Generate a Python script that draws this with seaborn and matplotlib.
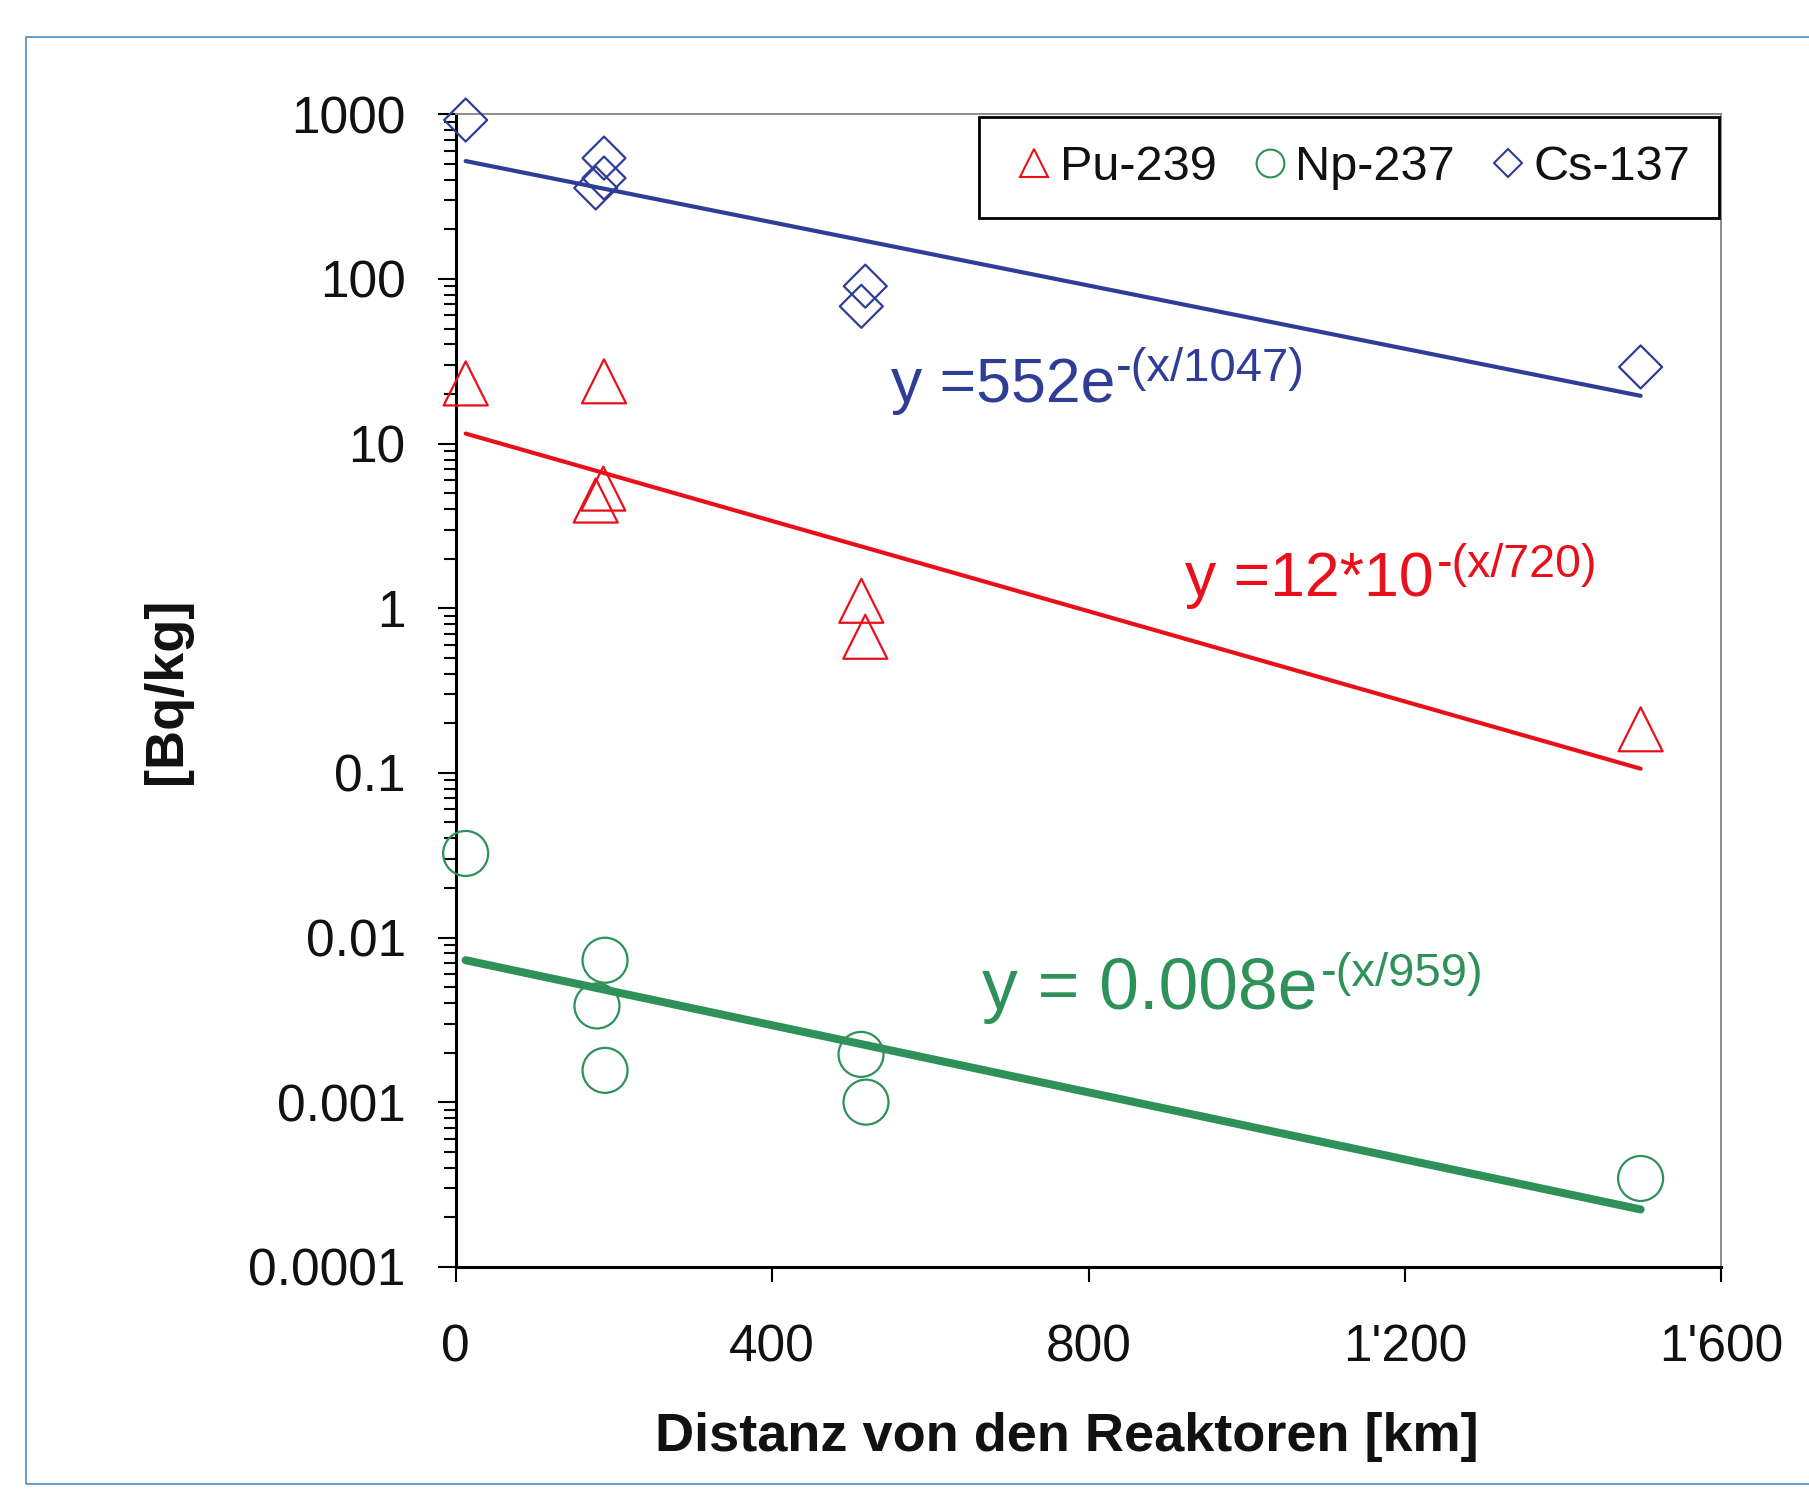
import numpy as np
import pandas as pd
import matplotlib
matplotlib.use("Agg")
import matplotlib.pyplot as plt
import seaborn as sns
from matplotlib.lines import Line2D
from matplotlib.patches import Rectangle
from matplotlib.ticker import FixedLocator, FixedFormatter, LogLocator, NullFormatter

# ---------------- data ----------------
isotopes = ["Pu-239", "Np-237", "Cs-137"]

pu_x = [12.6, 187.5, 186.6, 177.0, 512.8, 517.8, 1498.0]
pu_y = [23.2, 23.9, 5.33, 4.51, 1.11, 0.671, 0.184]

np_x = [12.6, 188.8, 178.6, 188.8, 512.4, 518.7, 1498.0]
np_y = [0.0324, 0.00728, 0.00384, 0.00156, 0.00195, 0.00100, 0.000344]

cs_x = [12.6, 187.5, 187.5, 177.0, 517.8, 512.8, 1498.0]
cs_y = [923.0, 542.0, 410.0, 357.0, 90.4, 68.2, 29.2]

fit_x = [12.6, 1498.0]
pu_fit = [11.5, 0.106]
np_fit = [0.00728, 0.000223]
cs_fit = [520.0, 19.5]

eq_main = ["y =552e", "y =12*10", "y = 0.008e"]
eq_sup = ["-(x/1047)", "-(x/720)", "-(x/959)"]

x_ticks = [0, 400, 800, 1200, 1600]
x_tick_labels = ["0", "400", "800", "1'200", "1'600"]
y_ticks = [1e-4, 1e-3, 1e-2, 1e-1, 1e0, 1e1, 1e2, 1e3]
y_tick_labels = ["0.0001", "0.001", "0.01", "0.1", "1", "10", "100", "1000"]

x_label = "Distanz von den Reaktoren [km]"
y_label = "[Bq/kg]"

# ---------------- style ----------------
BLUE = "#2f3d96"
RED = "#e8101a"
GREEN = "#2e9159"
FRAME = "#4f88c6"

sns.set_theme(style="ticks")
plt.rcParams["font.family"] = ["Liberation Sans", "DejaVu Sans"]

W, H = 1809, 1490
fig = plt.figure(figsize=(W / 100, H / 100), dpi=100)
ax = fig.add_axes([455.7 / W, 1 - 1266.8 / H, 1265.6 / W, 1152.5 / H])
ax.set_yscale("log")

# fit lines
sns.lineplot(x=fit_x, y=cs_fit, ax=ax, color=BLUE, linewidth=3.0, solid_capstyle="round", zorder=2)
sns.lineplot(x=fit_x, y=pu_fit, ax=ax, color=RED, linewidth=3.0, solid_capstyle="round", zorder=2)
sns.lineplot(x=fit_x, y=np_fit, ax=ax, color=GREEN, linewidth=5.8, solid_capstyle="round", zorder=2)

# points
sns.scatterplot(x=pu_x, y=pu_y, ax=ax, marker="^", s=31.7 ** 2, color=RED,
                facecolor="none", edgecolor=RED, linewidth=1.6, clip_on=False, zorder=3)
sns.scatterplot(x=np_x, y=np_y, ax=ax, marker="o", s=32.4 ** 2, color=GREEN,
                facecolor="none", edgecolor=GREEN, linewidth=1.6, clip_on=False, zorder=3)
sns.scatterplot(x=cs_x, y=cs_y, ax=ax, marker="D", s=21.9 ** 2, color=BLUE,
                facecolor="none", edgecolor=BLUE, linewidth=1.6, clip_on=False, zorder=3)

ax.set_xlim(0, 1600)
ax.set_ylim(1e-4, 1e3)

ax.xaxis.set_major_locator(FixedLocator(x_ticks))
ax.xaxis.set_major_formatter(FixedFormatter(x_tick_labels))
ax.yaxis.set_major_locator(FixedLocator(y_ticks))
ax.yaxis.set_major_formatter(FixedFormatter(y_tick_labels))
ax.yaxis.set_minor_locator(LogLocator(base=10, subs=np.arange(2, 10), numticks=20))
ax.yaxis.set_minor_formatter(NullFormatter())

ax.tick_params(axis="y", which="major", direction="out", length=13, width=1.5,
               pad=23, labelsize=37, left=True, colors="black")
ax.tick_params(axis="y", which="minor", direction="out", length=9, width=1.5, left=True, color="black")
ax.tick_params(axis="x", which="major", direction="out", length=11, width=1.5,
               pad=30, labelsize=37, bottom=True, colors="black")
ax.tick_params(axis="x", which="minor", bottom=False)
for lab in ax.get_xticklabels() + ax.get_yticklabels():
    lab.set_color("#111111")

for s in ["left", "bottom"]:
    ax.spines[s].set_color("black")
    ax.spines[s].set_linewidth(2.2)
for s in ["top", "right"]:
    ax.spines[s].set_visible(True)
    ax.spines[s].set_color("#8c8c8c")
    ax.spines[s].set_linewidth(1.4)

ax.set_xlabel(x_label, fontsize=39, fontweight="bold", va="center", color="#111111")
ax.xaxis.set_label_coords(0.4829, -0.1475)
ax.set_ylabel(y_label, fontsize=39, fontweight="bold", va="center", color="#111111")
ax.yaxis.set_label_coords((166.7 - 455.7) / 1265.6, 0.5)

# legend
handles = [
    Line2D([], [], ls="none", marker="^", markersize=20, mfc="none", mec=RED, mew=1.5),
    Line2D([], [], ls="none", marker="o", markersize=20, mfc="none", mec=GREEN, mew=1.5),
    Line2D([], [], ls="none", marker="D", markersize=14, mfc="none", mec=BLUE, mew=1.5),
]
leg = ax.legend(handles, isotopes, loc="upper right", bbox_to_anchor=(1, 1), ncol=3,
                fontsize=35, frameon=True, fancybox=False, framealpha=1,
                edgecolor="black", borderpad=0.58, handlelength=1.12,
                handletextpad=-0.03, columnspacing=0.53, borderaxespad=0.05)
leg.get_frame().set_linewidth(2.0)
for t in leg.get_texts():
    t.set_color("#111111")

# outer frame
fig.add_artist(Rectangle((26 / W, 1 - 1484 / H), 2.0, (1484 - 37) / H,
                         transform=fig.transFigure, fill=False,
                         edgecolor=FRAME, linewidth=1.2, clip_on=False))

# equations
eq_specs = [
    (890.7, 401.7, BLUE, 45, 34, 21, 1),
    (1185.0, 596.0, RED, 45, 33.5, 19, 3),
    (982.4, 1009.0, GREEN, 51.5, 34, 23, 3),
]
fig.canvas.draw()
renderer = fig.canvas.get_renderer()
for main, sup, (xp, bp, col, fs, sfs, rise, gap) in zip(eq_main, eq_sup, eq_specs):
    t = fig.text(xp / W, 1 - bp / H, main, color=col, fontsize=fs, va="baseline", ha="left")
    bb = t.get_window_extent(renderer=renderer)
    fig.text((bb.x1 + gap) / W, 1 - (bp - rise) / H, sup, color=col, fontsize=sfs,
             va="baseline", ha="left")

fig.savefig("out.png", dpi=100)
